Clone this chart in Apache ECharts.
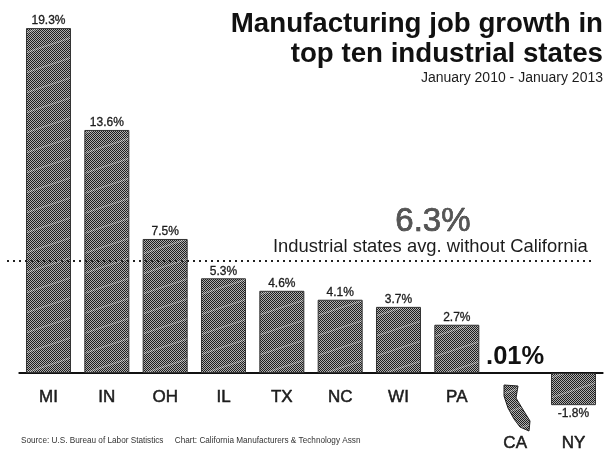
<!DOCTYPE html>
<html>
<head>
<meta charset="utf-8">
<style>html,body{margin:0;padding:0;background:#fff}#chart{width:605px;height:451px}</style>
<script src="https://cdn.jsdelivr.net/npm/echarts@6/dist/echarts.min.js"></script>
</head>
<body>
<div id="chart"></div>
<script>
// Manufacturing job growth, percent change January 2010 - January 2013
const states = ['MI', 'IN', 'OH', 'IL', 'TX', 'NC', 'WI', 'PA', 'CA', 'NY'];
const growth = [19.3, 13.6, 7.5, 5.3, 4.6, 4.1, 3.7, 2.7, 0.01, -1.8];
const growthLabels = ['19.3%', '13.6%', '7.5%', '5.3%', '4.6%', '4.1%', '3.7%', '2.7%', '.01%', '-1.8%'];
const averageWithoutCA = 6.3;
const titleLines = ['Manufacturing job growth in', 'top ten industrial states'];
const subtitle = 'January 2010 - January 2013';
const averageCaption = 'Industrial states avg. without California';
const sourceNote = 'Source: U.S. Bureau of Labor Statistics     Chart: California Manufacturers & Technology Assn';

const FONT = '"Liberation Sans", Arial, sans-serif';
const INK = '#1c1c1c';

// Halftone fill: a fine checker crossed by shallow pale diagonal bands
function halftone() {
  const w = 60, h = 20;
  const c = document.createElement('canvas');
  c.width = w; c.height = h;
  const g = c.getContext('2d');
  for (let y = 0; y < h; y++) {
    for (let x = 0; x < w; x++) {
      const band = (x + 3 * y) % 60 < 5;
      const on = (x + y) % 2 === 0;
      g.fillStyle = on ? (band ? '#4e4e4e' : '#1e1e1e') : (band ? '#c8c8c8' : '#aeaeae');
      g.fillRect(x, y, 1, 1);
    }
  }
  return { image: c, repeat: 'repeat' };
}
const fill = halftone();

const chart = echarts.init(document.getElementById('chart'), null, { renderer: 'canvas' });

const barData = growth.map((v, i) => {
  const isCA = states[i] === 'CA';
  return {
    value: v,
    itemStyle: isCA ? { color: 'transparent', borderWidth: 0 } : undefined,
    label: {
      show: true,
      position: v < 0 ? 'bottom' : 'top',
      distance: isCA ? 3 : (v < 0 ? 3 : 1),
      formatter: growthLabels[i],
      fontFamily: FONT,
      fontWeight: isCA ? 'bold' : 'normal',
      fontSize: isCA ? 25.5 : 12,
      color: isCA ? '#111' : INK,
      textBorderColor: isCA ? 'transparent' : INK,
      textBorderWidth: isCA ? 0 : 0.3
    }
  };
});

chart.setOption({
  animation: false,
  backgroundColor: '#fff',
  grid: { left: 19.33, width: 583.33, top: 15.6, height: 411, outerBoundsMode: 'none' },
  xAxis: {
    type: 'category',
    data: states,
    axisLine: { onZero: true, lineStyle: { color: '#111', width: 2 } },
    axisTick: { show: false },
    axisLabel: {
      interval: 0,
      hideOverlap: false,
      margin: -37.6,
      color: INK,
      fontFamily: FONT,
      fontSize: 17,
      textBorderColor: INK,
      textBorderWidth: 0.5,
      formatter: s => (s === 'CA' || s === 'NY') ? '{low|' + s + '}' : s,
      rich: { low: { fontFamily: FONT, fontSize: 17, color: INK, textBorderColor: INK, textBorderWidth: 0.5, padding: [46, 0, 0, 0] } }
    }
  },
  yAxis: { type: 'value', min: -3, max: 20, show: false, splitLine: { show: false } },
  series: [{
    type: 'bar',
    data: barData,
    barWidth: 45,
    itemStyle: { color: fill, borderColor: '#333', borderWidth: 1 },
    markLine: {
      silent: true,
      symbol: 'none',
      label: { show: false },
      lineStyle: { color: '#222', type: [2, 4], width: 2 },
      data: [[{ yAxis: averageWithoutCA, x: 7 }, { yAxis: averageWithoutCA, x: 592 }]]
    }
  }],
  graphic: [
    { type: 'text', right: 2, top: 10, style: { text: titleLines[0], font: 'bold 27.7px ' + FONT, fill: '#111', textAlign: 'right' } },
    { type: 'text', right: 2, top: 40, style: { text: titleLines[1], font: 'bold 27.7px ' + FONT, fill: '#111', textAlign: 'right' } },
    { type: 'text', right: 2, top: 71, style: { text: subtitle, font: '14px ' + FONT, fill: INK, textAlign: 'right' } },
    { type: 'text', left: 395, top: 205, style: { text: averageWithoutCA + '%', font: '33px ' + FONT, fill: '#555', stroke: '#222', lineWidth: 0.6 } },
    { type: 'text', left: 273, top: 238, style: { text: averageCaption, font: '18.4px ' + FONT, fill: INK } },
    { type: 'text', left: 21, top: 437, style: { text: sourceNote, font: '8.2px ' + FONT, fill: '#333' } },
    // California outline standing in for the near-zero bar
    { type: 'polygon', shape: { points: [[504, 385], [518, 386], [516, 398], [522, 408], [530, 421], [529, 431], [520, 427], [514, 419], [508, 408], [504, 396]] },
      style: { fill: fill, stroke: '#222', lineWidth: 1 } }
  ]
});
</script>
</body>
</html>
